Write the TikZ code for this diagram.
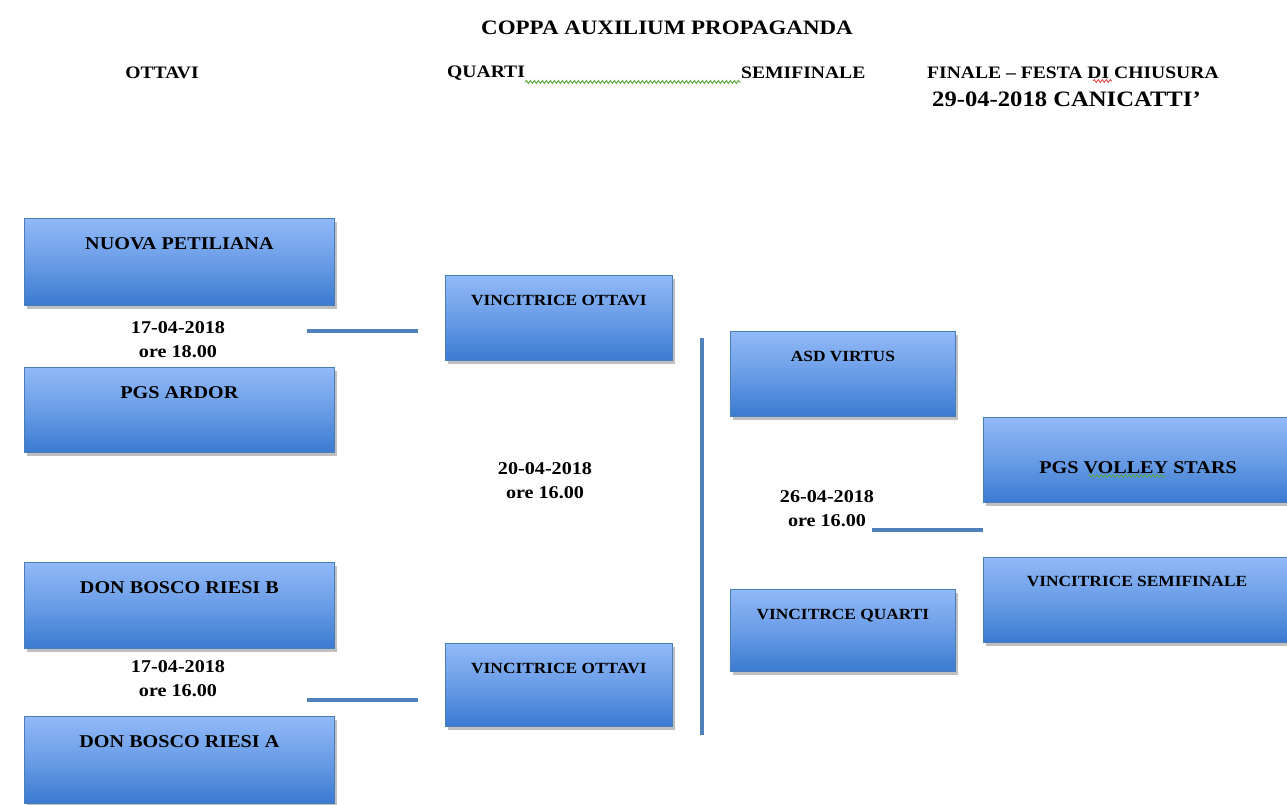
\documentclass[tikz,border=0pt]{standalone}
\usepackage{fontspec}
\setmainfont{Liberation Serif}[FakeStretch=1.12]
\usetikzlibrary{shadows,decorations.pathmorphing}
\definecolor{boxtop}{RGB}{145,185,248}
\definecolor{boxbot}{RGB}{58,122,208}
\definecolor{boxedge}{RGB}{74,126,187}
\definecolor{linecol}{RGB}{79,129,189}
\definecolor{squig}{RGB}{90,170,60}
\definecolor{squigred}{RGB}{220,40,40}
\tikzset{
  team/.style={draw=boxedge, line width=0.8pt, top color=boxtop, bottom color=boxbot,
    middle color=boxtop!55!boxbot,
    drop shadow={opacity=0.5, shadow xshift=3pt, shadow yshift=-4pt},
    anchor=north west, inner sep=0pt},
  boxtext/.style={font=\bfseries\fontsize{18}{20}\selectfont, anchor=north, inner sep=0pt},
  smalltext/.style={boxtext, font=\bfseries\fontsize{15.5}{17}\selectfont},
  datetext/.style={font=\bfseries\fontsize{18}{24}\selectfont, align=center, inner sep=0pt},
  header/.style={font=\bfseries\fontsize{17.5}{19}\selectfont, inner sep=0pt},
  link/.style={draw=linecol, line width=4pt},
  wavy/.style={line width=0.9pt, decorate, decoration={snake, amplitude=1.5pt, segment length=4pt}},
}
\begin{document}
\begin{tikzpicture}[x=1pt,y=-1pt]
\useasboundingbox (0,0) rectangle (1287,805);
% headers
\node[font=\bfseries\fontsize{20.5}{22}\selectfont, inner sep=0pt] (title) at (667,28) {COPPA AUXILIUM PROPAGANDA};
\node[header] (hott) at (162,73) {OTTAVI};
\node[header, anchor=west] (hqua) at (447,73) {QUARTI};
\node[header, anchor=west] (hsemi) at (741,73) {SEMIFINALE};
\node[header, anchor=west] (hfin) at (927,73) {FINALE -- FESTA DI CHIUSURA};
\node[font=\bfseries\fontsize{22}{24}\selectfont, anchor=west, inner sep=0pt] (hdate) at (932,99) {29-04-2018 CANICATTI'};
\draw[squig, wavy] (hqua.east |- 0,82) -- (hsemi.west |- 0,82);
\coordinate (sra) at (1093,81);
\coordinate (srb) at (1112,81);
\draw[squigred, wavy, line width=0.7pt] (sra) -- (srb);

% ottavi boxes
\node[team, minimum width=310pt, minimum height=87pt] (np) at (24,218) {};
\node[boxtext] (npt) at ([yshift=-19pt]np.north) {NUOVA PETILIANA};
\node[team, minimum width=310pt, minimum height=85pt] (pa) at (24,367) {};
\node[boxtext] (pat) at ([yshift=-19pt]pa.north) {PGS ARDOR};
\node[team, minimum width=310pt, minimum height=86pt] (dbb) at (24,562) {};
\node[boxtext] (dbbt) at ([yshift=-19pt]dbb.north) {DON BOSCO RIESI B};
\node[team, minimum width=310pt, minimum height=87pt] (dba) at (24,716) {};
\node[boxtext] (dbat) at ([yshift=-19pt]dba.north) {DON BOSCO RIESI A};

% quarti boxes
\node[team, minimum width=227pt, minimum height=85pt] (vo1) at (445,275) {};
\node[smalltext] (vo1t) at ([yshift=-20pt]vo1.north) {VINCITRICE OTTAVI};
\node[team, minimum width=227pt, minimum height=83pt] (vo2) at (445,643) {};
\node[smalltext] (vo2t) at ([yshift=-20pt]vo2.north) {VINCITRICE OTTAVI};

% semifinale boxes
\node[team, minimum width=225pt, minimum height=85pt] (asd) at (730,331) {};
\node[smalltext] (asdt) at ([yshift=-20pt]asd.north) {ASD VIRTUS};
\node[team, minimum width=225pt, minimum height=82pt] (vq) at (730,589) {};
\node[smalltext] (vqt) at ([yshift=-20pt]vq.north) {VINCITRCE QUARTI};

% finale boxes
\node[team, minimum width=320pt, minimum height=85pt] (pvs) at (983,417) {};
\node[boxtext, anchor=center] (pvst) at (1138,468) {PGS VOLLEY STARS};
\node[team, minimum width=320pt, minimum height=85pt] (vs) at (983,557) {};
\node[smalltext] (vst) at (1137,576) {VINCITRICE SEMIFINALE};
\coordinate (vsa) at (1088,476);
\coordinate (vsb) at (1165,476);
\draw[squig, wavy, line width=0.6pt] (vsa) -- (vsb);

% dates
\node[datetext] (d1) at (178,340) {17-04-2018\\ore 18.00};
\node[datetext] (d2) at (178,679) {17-04-2018\\ore 16.00};
\node[datetext] (d3) at (545,481) {20-04-2018\\ore 16.00};
\node[datetext] (d4) at (827,509) {26-04-2018\\ore 16.00};

% connectors
\coordinate (l1a) at (307,331);
\coordinate (l1b) at (418,331);
\draw[link] (l1a) -- (l1b);
\coordinate (l2a) at (307,700);
\coordinate (l2b) at (418,700);
\draw[link] (l2a) -- (l2b);
\coordinate (va) at (702,338);
\coordinate (vb) at (702,735);
\draw[link] (va) -- (vb);
\coordinate (l3a) at (872,530);
\coordinate (l3b) at (983,530);
\draw[link] (l3a) -- (l3b);
\end{tikzpicture}
\end{document}
